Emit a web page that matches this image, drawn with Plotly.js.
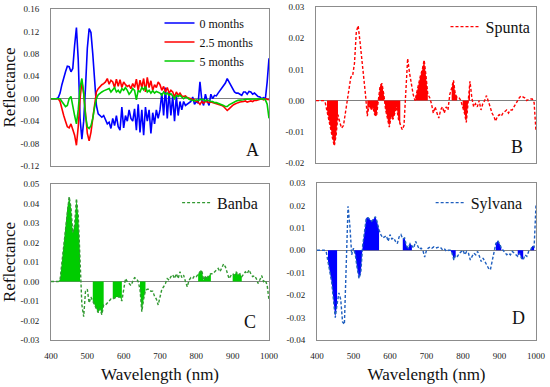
<!DOCTYPE html>
<html><head><meta charset="utf-8">
<script src="https://cdn.plot.ly/plotly-3.0.1.min.js"></script>
<style>html,body{margin:0;padding:0;background:#fff}#chart{width:550px;height:387px}</style>
</head><body><div id="chart"></div>
<script>
const wavelength = [
400,405,410,415,420,425,430,435,440,445,
450,455,460,465,470,475,480,485,490,495,
500,505,510,515,520,525,530,535,540,545,
550,555,560,565,570,575,580,585,590,595,
600,605,610,615,620,625,630,635,640,645,
650,655,660,665,670,675,680,685,690,695,
700,705,710,715,720,725,730,735,740,745,
750,755,760,765,770,775,780,785,790,795,
800,805,810,815,820,825,830,835,840,845,
850,855,860,865,870,875,880,885,890,895,
900,905,910,915,920,925,930,935,940,945,
950,955,960,965,970,975,980,985,990,995,
1000];

const months0 = [
0,0,0,0,0.002,0.01,0.025,0.038,0.048,0.058,
0.057,0.048,0.054,0.095,0.127,0.07,-0.035,-0.072,-0.04,0.02,
0.09,0.125,0.118,0.08,0.025,-0.012,-0.027,-0.03,-0.033,-0.03,
-0.037,-0.045,-0.042,-0.053,-0.035,-0.048,-0.03,-0.05,-0.056,-0.015,
-0.052,-0.03,-0.04,-0.02,-0.035,-0.04,-0.018,-0.056,-0.01,-0.06,
-0.02,-0.065,-0.015,-0.04,-0.02,-0.062,-0.025,-0.045,-0.02,-0.035,
-0.02,0.01,-0.03,0.02,-0.035,0.012,-0.03,0.005,-0.04,0.005,
-0.03,-0.005,-0.02,-0.005,-0.012,-0.01,-0.008,-0.005,0.003,-0.01,
-0.005,-0.008,0.03,-0.002,-0.012,0.008,-0.004,-0.012,0.008,0.0,
0.006,0.005,0.01,0.015,0.018,0.025,0.028,0.036,0.03,0.022,
0.018,0.012,0.01,0.01,0.008,0.006,0.012,0.012,0.008,0.013,
0.012,0.008,0.01,0.006,0.004,0.003,0.0,0.002,0.0,0.03,
0.072];

const months2_5 = [
0,0,0,0,0,-0.005,-0.02,-0.03,-0.04,-0.05,
-0.052,-0.045,-0.055,-0.065,-0.083,-0.05,0.0,0.03,0.01,-0.035,
-0.062,-0.075,-0.06,-0.035,-0.01,0.012,0.018,0.022,0.025,0.027,
0.03,0.036,0.026,0.033,0.03,0.02,0.035,0.022,0.034,0.02,
0.03,0.025,0.022,0.024,0.018,0.027,0.02,0.035,0.015,0.033,
0.02,0.036,0.012,0.038,0.02,0.032,0.015,0.025,0.02,0.03,
0.025,0.015,0.022,0.012,0.02,0.01,0.015,0.012,0.003,0.012,
0.006,0.01,0.005,0.004,0.005,0.002,0.001,0.0,-0.002,-0.002,
-0.005,-0.006,-0.01,-0.005,-0.008,-0.005,-0.006,-0.007,-0.006,-0.007,
-0.008,-0.008,-0.009,-0.01,-0.012,-0.014,-0.017,-0.021,-0.018,-0.014,
-0.012,-0.01,-0.008,-0.007,-0.006,-0.006,-0.005,-0.004,-0.006,-0.005,
-0.004,-0.005,-0.003,-0.003,-0.002,-0.001,0.0,-0.002,0.0,-0.001,
-0.002];

const months5 = [
0,0,0,0,0,0,-0.005,-0.01,-0.014,-0.012,
0.0,0.004,-0.01,-0.03,-0.045,-0.02,0.02,0.036,0.01,-0.03,
-0.05,-0.053,-0.048,-0.035,-0.015,0.0,0.007,0.01,0.012,0.014,
0.015,0.016,0.018,0.012,0.016,0.02,0.012,0.015,0.01,0.018,
0.015,0.02,0.015,0.008,0.012,0.018,0.015,-0.002,0.015,0.012,
0.02,0.016,0.022,0.012,0.015,0.01,0.014,0.01,0.013,0.012,
0.01,0.006,0.012,0.008,0.01,0.006,0.009,0.005,0.0,0.006,
0.004,0.006,0.002,0.0,0.003,0.002,-0.001,-0.002,-0.003,-0.004,
-0.002,-0.003,-0.002,-0.001,-0.002,-0.004,-0.002,-0.004,-0.005,-0.005,
-0.007,-0.007,-0.008,-0.009,-0.01,-0.012,-0.014,-0.014,-0.011,-0.009,
-0.007,-0.006,-0.004,-0.003,-0.003,-0.002,-0.002,-0.001,-0.001,-0.001,
0,0,0,0,0,0,0,0,-0.002,-0.01,
-0.035];

const spunta = [
0,0,0,0,0,-0.0005,-0.003,-0.006,-0.009,-0.012,
-0.0145,-0.011,-0.0045,-0.007,-0.0088,-0.008,-0.004,0.0,0.005,0.0075,
0.008,0.012,0.022,0.024,0.019,0.014,0.007,0.002,-0.005,-0.001,
-0.003,-0.002,-0.0045,-0.005,0.0,0.0048,0.0055,0.002,-0.003,-0.006,
-0.0085,-0.005,-0.006,-0.004,-0.002,-0.006,-0.008,-0.0093,-0.008,0.003,
0.0135,0.009,0.005,0.002,0.0,0.003,0.005,0.008,0.01,0.013,
0.008,0.002,0.001,-0.001,-0.004,-0.002,-0.004,-0.0056,-0.003,-0.002,
-0.004,-0.002,-0.003,0.002,0.004,0.0065,0.002,0.001,0.001,0.0,
-0.002,-0.004,-0.007,0.001,0.0062,0.001,-0.002,-0.001,-0.002,0.0,
-0.003,-0.001,0.0,0.0016,0.0,-0.002,-0.004,-0.005,-0.0066,-0.005,
-0.0045,-0.005,-0.004,-0.0035,-0.003,-0.004,-0.003,-0.003,-0.002,-0.001,
0.0,0.001,0.0015,0.0012,0.0008,0.0,0.0004,0.0005,0.0005,-0.0007,
-0.0098];

const banba = [
0,0,0,0,0,0.001,0.01,0.02,0.029,0.038,
0.0435,0.038,0.025,0.029,0.0425,0.034,0.013,-0.012,-0.018,-0.005,
-0.004,-0.011,-0.008,-0.01,-0.012,-0.0146,-0.016,-0.014,-0.017,-0.012,
-0.012,-0.011,-0.01,-0.009,-0.009,-0.0085,-0.008,-0.008,-0.008,-0.01,
-0.003,0.0015,0.0,-0.001,-0.002,0.0,0.002,0.0015,0.0,-0.004,
-0.0155,-0.009,-0.0045,-0.004,-0.004,-0.005,-0.005,-0.0075,-0.009,-0.012,
-0.008,-0.004,-0.0027,-0.001,0.0015,0.0007,0.0025,0.0035,0.0015,0.004,
0.0015,0.005,0.002,0.0033,0.0,-0.0027,0.0007,0.002,0.0015,0.003,
0.0025,0.004,0.005,0.0058,0.0007,0.0028,0.002,0.0033,0.004,0.004,
0.005,0.006,0.0067,0.005,0.0075,0.009,0.0075,0.004,0.0015,0.003,
0.004,0.0033,0.005,0.0033,0.004,0.0025,0.004,0.005,0.004,0.006,
0.004,0.0025,0.003,0.0015,-0.001,0.0007,0.003,0.0,0.0007,-0.002,
-0.0095];

const sylvana = [
0,0,0,0,0,-0.0005,-0.005,-0.009,-0.014,-0.022,
-0.03,-0.024,-0.019,-0.022,-0.032,-0.033,-0.01,0.0196,0.011,-0.002,
0.001,-0.002,-0.008,-0.0125,-0.01,0.002,0.008,0.0145,0.0145,0.0135,
0.013,0.014,0.015,0.0125,0.009,0.007,0.0055,0.006,0.0065,0.004,
0.007,0.005,0.0055,0.004,0.003,0.006,0.007,0.005,0.0055,0.002,
0.001,0.003,0.002,0.001,0.004,0.002,0.0005,0.001,0.0,-0.003,
0.0,0.001,0.0015,0.001,0.0015,0.001,0.0013,0.0015,0.001,0.0,
0.0005,-0.0005,0.0,0.0,-0.0013,-0.0043,-0.002,-0.0027,-0.0013,-0.0005,
0.0,-0.002,-0.0005,-0.0013,-0.0043,-0.0027,-0.0013,-0.002,-0.0005,-0.0027,
-0.005,-0.0035,-0.005,-0.0065,-0.008,-0.0087,-0.0045,0.0,0.003,0.0043,
0.003,0.001,0.0,-0.0005,-0.002,-0.0013,-0.002,-0.0005,-0.0013,-0.002,
-0.0027,-0.0013,-0.0035,-0.0043,-0.002,-0.0027,-0.0005,0.0,0.002,0.0015,
0.02];

// wavelength ranges shaded under the curves
const spuntaFill = [[428,460],[540,630],[668,708],[770,785],[800,822]];
const banbaFill = [[420,480],[515,545],[570,597],[642,660],[805,840],[897,925]];
const sylvanaFill = [[427,458],[497,574],[634,662],[765,782],[888,908],[950,968],[985,995]];

const xTicks = [400,500,600,700,800,900,1000];
const xTickText = ["400","500","600","700","800","900","1000"];
const yTicksA = [-0.12,-0.08,-0.04,0,0.04,0.08,0.12,0.16];
const yTextA = ["-0.12","-0.08","-0.04","0.00","0.04","0.08","0.12","0.16"];
const yTicksB = [-0.02,-0.01,0,0.01,0.02,0.03];
const yTextB = ["-0.02","-0.01","0.00","0.01","0.02","0.03"];
const yTicksC = [-0.03,-0.02,-0.01,0,0.01,0.02,0.03,0.04,0.05];
const yTextC = ["-0.03","-0.02","-0.01","0.00","0.01","0.02","0.03","0.04","0.05"];
const yTicksD = [-0.04,-0.03,-0.02,-0.01,0,0.01,0.02,0.03];
const yTextD = ["-0.04","-0.03","-0.02","-0.01","0.00","0.01","0.02","0.03"];

const SERIF = "Liberation Serif";

function fillTraces(vals, ranges, color, xa, ya) {
  return ranges.map(r => {
    const xs = [], ys = [];
    wavelength.forEach((w, i) => { if (w >= r[0] && w <= r[1]) { xs.push(w); ys.push(vals[i]); } });
    return {x: xs, y: ys, type: 'scatter', mode: 'lines', fill: 'tozeroy', fillcolor: color,
            line: {width: 0, color: color}, xaxis: xa, yaxis: ya, showlegend: false, hoverinfo: 'skip'};
  });
}

const traces = [
  {x: wavelength, y: months0, name: '0 months', type: 'scatter', mode: 'lines', line: {color: '#0000ff', width: 1.6}, xaxis: 'x', yaxis: 'y', legend: 'legend'},
  {x: wavelength, y: months2_5, name: '2.5 months', type: 'scatter', mode: 'lines', line: {color: '#ff0000', width: 1.6}, xaxis: 'x', yaxis: 'y', legend: 'legend'},
  {x: wavelength, y: months5, name: '5 months', type: 'scatter', mode: 'lines', line: {color: '#00cc00', width: 1.6}, xaxis: 'x', yaxis: 'y', legend: 'legend'},
  ...fillTraces(spunta, spuntaFill, '#ff0000', 'x2', 'y2'),
  {x: wavelength, y: spunta, name: 'Spunta', type: 'scatter', mode: 'lines', line: {color: '#ff0000', width: 1.4, dash: '3px,2px'}, xaxis: 'x2', yaxis: 'y2', legend: 'legend2'},
  ...fillTraces(banba, banbaFill, '#00cc00', 'x3', 'y3'),
  {x: wavelength, y: banba, name: 'Banba', type: 'scatter', mode: 'lines', line: {color: '#339933', width: 1.4, dash: '3px,2px'}, xaxis: 'x3', yaxis: 'y3', legend: 'legend3'},
  ...fillTraces(sylvana, sylvanaFill, '#0000ff', 'x4', 'y4'),
  {x: wavelength, y: sylvana, name: 'Sylvana', type: 'scatter', mode: 'lines', line: {color: '#1f5fbf', width: 1.4, dash: '3px,2px'}, xaxis: 'x4', yaxis: 'y4', legend: 'legend4'}
];

function xax(domain, anchor, showLabels, title) {
  const a = {domain: domain, anchor: anchor, range: [400, 1000], tickvals: xTicks, ticktext: xTickText,
    showticklabels: showLabels, showgrid: false, zeroline: false, ticks: '', showline: true, mirror: true,
    linecolor: '#8c8c8c', linewidth: 1, ticklabelstandoff: 7,
    tickfont: {family: SERIF, size: 9, color: '#222'}};
  if (title) a.title = {text: title, font: {family: SERIF, size: 17, color: '#111'}, standoff: 8};
  return a;
}
function yax(domain, anchor, range, tv, tt, title) {
  const a = {domain: domain, anchor: anchor, range: range, tickvals: tv, ticktext: tt,
    showgrid: false, zeroline: true, zerolinecolor: '#808080', zerolinewidth: 1.5, ticks: '',
    showline: true, mirror: true, linecolor: '#8c8c8c', linewidth: 1, ticklabelstandoff: 9,
    tickfont: {family: SERIF, size: 9, color: '#222'}};
  if (title) a.title = {text: title, font: {family: SERIF, size: 17, color: '#111'}, standoff: 6};
  return a;
}

const legBase = {bgcolor: 'rgba(0,0,0,0)', borderwidth: 0, itemwidth: 30, xanchor: 'left', yanchor: 'top', tracegroupgap: 0};

const layout = {
  width: 550, height: 387,
  margin: {l: 0, r: 0, t: 0, b: 0},
  paper_bgcolor: '#fff', plot_bgcolor: '#fff',
  showlegend: true,
  xaxis: xax([0.0927, 0.4891], 'y', false),
  yaxis: yax([0.5711, 0.9767], 'x', [-0.12, 0.16], yTicksA, yTextA, 'Reflectance'),
  xaxis2: xax([0.5745, 0.9745], 'y2', false),
  yaxis2: yax([0.5788, 0.9819], 'x2', [-0.02, 0.03], yTicksB, yTextB),
  xaxis3: xax([0.0927, 0.4891], 'y3', true, 'Wavelength (nm)'),
  yaxis3: yax([0.1214, 0.5245], 'x3', [-0.03, 0.05], yTicksC, yTextC, 'Reflectance'),
  xaxis4: xax([0.5764, 0.9745], 'y4', true, 'Wavelength (nm)'),
  yaxis4: yax([0.1214, 0.5271], 'x4', [-0.04, 0.03], yTicksD, yTextD),
  legend: Object.assign({}, legBase, {x: 0.29, y: 0.978, font: {family: SERIF, size: 12, color: '#111'}}),
  legend2: Object.assign({}, legBase, {x: 0.81, y: 0.975, font: {family: SERIF, size: 16, color: '#111'}}),
  legend3: Object.assign({}, legBase, {x: 0.322, y: 0.52, font: {family: SERIF, size: 16, color: '#111'}}),
  legend4: Object.assign({}, legBase, {x: 0.783, y: 0.52, font: {family: SERIF, size: 16, color: '#111'}}),
  annotations: [
    {text: 'A', xref: 'x domain', yref: 'y domain', x: 0.925, y: 0.1, xanchor: 'center', yanchor: 'middle', showarrow: false, font: {family: SERIF, size: 18, color: '#111'}},
    {text: 'B', xref: 'x2 domain', yref: 'y2 domain', x: 0.915, y: 0.1, xanchor: 'center', yanchor: 'middle', showarrow: false, font: {family: SERIF, size: 18, color: '#111'}},
    {text: 'C', xref: 'x3 domain', yref: 'y3 domain', x: 0.915, y: 0.115, xanchor: 'center', yanchor: 'middle', showarrow: false, font: {family: SERIF, size: 18, color: '#111'}},
    {text: 'D', xref: 'x4 domain', yref: 'y4 domain', x: 0.92, y: 0.14, xanchor: 'center', yanchor: 'middle', showarrow: false, font: {family: SERIF, size: 18, color: '#111'}}
  ]
};

Plotly.newPlot('chart', traces, layout, {staticPlot: true, displayModeBar: false});
</script>
</body></html>
